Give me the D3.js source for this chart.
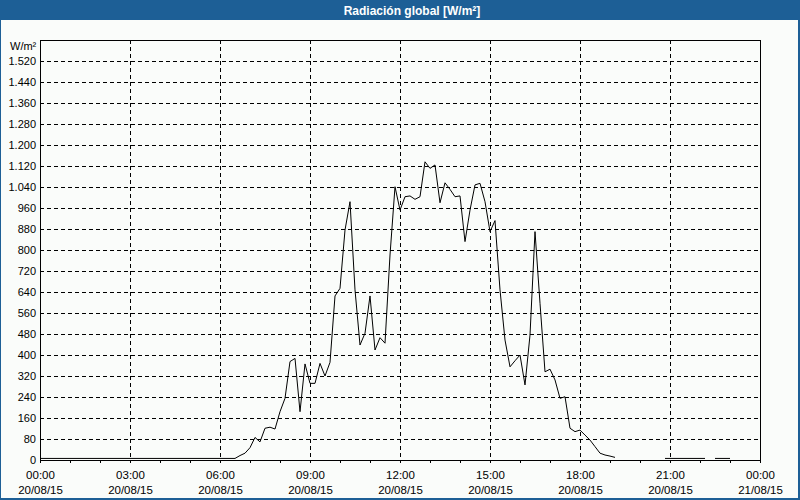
<!DOCTYPE html>
<html>
<head>
<meta charset="utf-8">
<script src="https://cdn.jsdelivr.net/npm/d3@7"></script>
<style>
  html, body { margin: 0; padding: 0; background: #fafcfa; }
  svg { display: block; }
  text { font-family: "Liberation Sans", Arial, sans-serif; fill: #000; }
</style>
</head>
<body>
<svg id="chart" width="800" height="500"></svg>
<script>
// ---- Data (10-minute readings, 20/08/15 00:00 .. 21/08/15 00:00) ----
const titleText = "Radiación global [W/m²]";
const unitLabel = "W/m²";
const stepMinutes = 10;
const radiation = [
  // 00:00 - 06:30
  6,6,6,6,6,6, 6,6,6,6,6,6, 6,6,6,6,6,6, 6,6,6,6,6,6, 6,6,6,6,6,6, 6,6,6,6,6,6,
  6,6,6,6,
  // 06:40 ...
  17,26,47,86,69,121,125,118,184,235,375,387,
  184,366,292,292,368,320,372,625,654,876,984,648,
  438,483,625,419,466,445,781,1041,952,1003,1006,993,
  1003,1136,1111,1124,980,1056,1031,1003,1006,832,952,1048,
  1054,984,870,912,648,457,355,378,400,286,476,870,
  597,336,346,305,235,241,121,108,114,95,76,51,
  26,19,15,10,
  null,null,null,null,null,null,null,null,null,
  6,6,6,6,6,6,6,6,6,
  null,
  6,6,6,6,
  null,null,null,null,null,null
];
const yTicks = [0,80,160,240,320,400,480,560,640,720,800,880,960,1040,1120,1200,1280,1360,1440,1520];
const xMajorHours = [0,3,6,9,12,15,18,21,24];
const xMajorTime = ["00:00","03:00","06:00","09:00","12:00","15:00","18:00","21:00","00:00"];
const xMajorDate = ["20/08/15","20/08/15","20/08/15","20/08/15","20/08/15","20/08/15","20/08/15","20/08/15","21/08/15"];
const xMinorHours = d3.range(0, 25, 1);

// ---- Layout ----
const W = 800, H = 500;
const plot = { left: 40, right: 760, top: 40, bottom: 460 };

const svg = d3.select("#chart");

// background + frame
svg.append("rect").attr("x",0).attr("y",0).attr("width",W).attr("height",H).attr("fill","#fafcfa");
svg.append("rect").attr("x",0).attr("y",0).attr("width",W).attr("height",20).attr("fill","#1d5f96");
svg.append("rect").attr("x",0).attr("y",0).attr("width",1).attr("height",H).attr("fill","#1d5f96");
svg.append("rect").attr("x",W-2).attr("y",0).attr("width",2).attr("height",H).attr("fill","#1d5f96");
svg.append("rect").attr("x",0).attr("y",H-2).attr("width",W).attr("height",2).attr("fill","#1d5f96");

svg.append("text")
  .attr("x", 412).attr("y", 14.5)
  .attr("text-anchor","middle")
  .style("font-size","12px").style("font-weight","bold").style("fill","#ffffff")
  .text(titleText);

// ---- Scales ----
const x = d3.scaleLinear().domain([0, 24]).range([plot.left, plot.right]);
const y = d3.scaleLinear().domain([0, 1600]).range([plot.bottom, plot.top]);

const fmt = d3.formatLocale({ decimal: ",", thousands: ".", grouping: [3], currency: ["", "€"] }).format(",d");

// ---- Grid ----
const grid = svg.append("g").attr("shape-rendering","crispEdges");
grid.selectAll("line.h").data(yTicks.filter(d => d > 0)).join("line")
  .attr("x1", plot.left).attr("x2", plot.right)
  .attr("y1", d => Math.round(y(d)) + 0.5).attr("y2", d => Math.round(y(d)) + 0.5)
  .attr("stroke","#000").attr("stroke-dasharray","4,3");
grid.selectAll("line.v").data(xMajorHours.filter(h => h > 0 && h < 24)).join("line")
  .attr("x1", d => Math.round(x(d)) + 0.5).attr("x2", d => Math.round(x(d)) + 0.5)
  .attr("y1", plot.top).attr("y2", plot.bottom)
  .attr("stroke","#000").attr("stroke-dasharray","4,3");

// ---- Y axis labels ----
const yAxis = d3.axisLeft(y).tickValues(yTicks).tickSize(0).tickPadding(4).tickFormat(fmt);
const gy = svg.append("g").attr("transform", `translate(${plot.left},0)`).call(yAxis);
gy.select(".domain").remove();
gy.selectAll("text").style("font-size","11px").style("font-family","'Liberation Sans', Arial, sans-serif").attr("fill","#000");

svg.append("text").attr("x", 10).attr("y", 50).style("font-size","11px").text(unitLabel);

// ---- X axis ----
const xMinor = d3.axisBottom(x).tickValues(xMinorHours).tickSize(3).tickFormat("");
const gxm = svg.append("g").attr("transform", `translate(0,${plot.bottom})`).attr("shape-rendering","crispEdges").call(xMinor);
gxm.select(".domain").remove();
gxm.selectAll("line").attr("stroke","#000");

const xMajor = d3.axisBottom(x).tickValues(xMajorHours).tickSize(0).tickPadding(12).tickFormat((d, i) => xMajorTime[i]);
const gx = svg.append("g").attr("transform", `translate(0,${plot.bottom})`).call(xMajor);
gx.select(".domain").remove();
gx.selectAll(".tick text").each(function(d, i) {
  const t = d3.select(this);
  t.text(null).attr("y", 0).attr("dy", null).style("font-size","11.5px").attr("fill","#000");
  t.append("tspan").attr("x", 0).attr("y", 19).text(xMajorTime[i]);
  t.append("tspan").attr("x", 0).attr("y", 33.5).text(xMajorDate[i]);
});

// ---- Plot frame ----
svg.append("rect")
  .attr("x", plot.left + 0.5).attr("y", plot.top + 0.5)
  .attr("width", plot.right - plot.left).attr("height", plot.bottom - plot.top)
  .attr("fill","none").attr("stroke","#000").attr("shape-rendering","crispEdges");

// ---- Data line ----
const points = radiation.map((v, i) => ({ h: i * stepMinutes / 60, v }));
const line = d3.line()
  .defined(d => d.v !== null)
  .x(d => x(d.h))
  .y(d => y(d.v));
svg.append("path")
  .datum(points)
  .attr("d", line)
  .attr("fill","none").attr("stroke","#000").attr("stroke-width",1);
</script>
</body>
</html>
